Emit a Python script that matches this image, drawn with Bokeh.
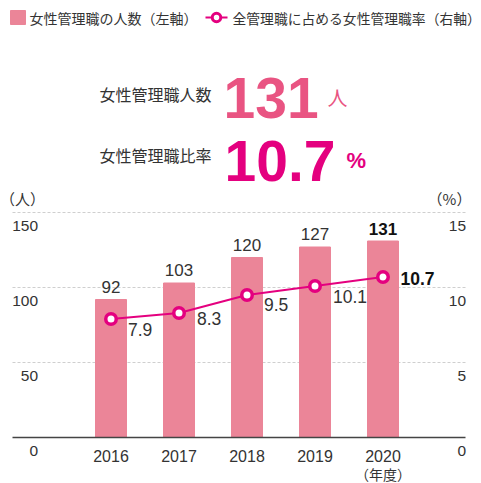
from bokeh.plotting import figure
from bokeh.models import Range1d
from bokeh.embed import file_html
from bokeh.resources import INLINE
from bokeh.core.properties import value

# ---------------- data ----------------
years = ["2016", "2017", "2018", "2019", "2020"]
counts = [92, 103, 120, 127, 131]
ratios = [7.9, 8.3, 9.5, 10.1, 10.7]
left_ticks = [0, 50, 100, 150]
right_ticks = [0, 5, 10, 15]
left_tick_labels = ["0", "50", "100", "150"]
right_tick_labels = ["0", "5", "10", "15"]
legend_labels = ["女性管理職の人数（左軸）", "全管理職に占める女性管理職率（右軸）"]
headline_titles = ["女性管理職人数", "女性管理職比率"]
headline_count = "131"
headline_count_unit = "人"
headline_ratio = "10.7"
headline_ratio_unit = "%"
left_unit = "（人）"
right_unit = "（%）"
year_unit = "（年度）"

# ---------------- layout (styling) ----------------
W, H = 481, 483
PX_X = 68.0          # px per year slot
PX_Y = 1.5           # px per person (left axis)
X0_IMG = 110.5       # image x of first slot
BASE_IMG = 437.0     # image y of zero line
TOP_IMG, LEFT_IMG = 0.0, 0.0
BOTTOM_IMG = TOP_IMG + H

xs = -(X0_IMG - LEFT_IMG) / PX_X
xe = xs + W / PX_X
ys = -(BOTTOM_IMG - BASE_IMG) / PX_Y
ye = ys + H / PX_Y
RATIO_SCALE = 10.0   # 15% <-> 150 persons


def X(img_x):
    return xs + (img_x - LEFT_IMG) / PX_X


def Y(img_y):
    return ys + (BOTTOM_IMG - img_y) / PX_Y


BAR = "#EB8598"
MAG = "#E4007F"
PINK = "#E95482"
TXT = "#333333"
NUM_FONT = value("Liberation Sans")
JP_FONT = value("Noto Sans CJK JP")

idx = list(range(len(years)))

p = figure(width=W, height=H, x_range=Range1d(xs, xe), y_range=Range1d(ys, ye),
           output_backend="svg", toolbar_location=None, min_border=0,
           x_axis_type=None, y_axis_type=None, outline_line_color=None,
           background_fill_color="white", border_fill_color="white")
p.extra_y_ranges = {"pct": Range1d(ys / RATIO_SCALE, ye / RATIO_SCALE)}

# grid lines
grid_vals = [t for t in left_ticks if t > 0]
p.segment(x0=[X(12)] * len(grid_vals), x1=[X(465)] * len(grid_vals),
          y0=grid_vals, y1=grid_vals, line_color="#cfcfcf", line_width=1,
          line_dash="3 2")

# bars
p.vbar(x=idx, top=counts, width=31 / PX_X, color=BAR)

# baseline
p.segment(x0=[X(12)], x1=[X(465)], y0=[0], y1=[0], line_color="#444444",
          line_width=1.5)

# ratio line
p.line(x=idx, y=ratios, y_range_name="pct", line_color=MAG, line_width=2)
p.scatter(x=idx, y=ratios, y_range_name="pct", size=10.5, fill_color="white",
          line_color=MAG, line_width=3.5)

# bar labels
p.text(x=idx[:-1], y=[c + 13 / PX_Y for c in counts[:-1]],
       text=[str(c) for c in counts[:-1]], text_font=NUM_FONT,
       text_font_size="17px", text_align="center", text_baseline="middle",
       text_color=TXT)
p.text(x=idx[-1:], y=[counts[-1] + 12 / PX_Y], text=[str(counts[-1])],
       text_font=NUM_FONT, text_font_size="17px", text_font_style="bold",
       text_align="center", text_baseline="middle", text_color="#111111")

# ratio labels (right of markers)
label_dy = [10, 5, 9.5, 10, 1]
label_dx = [17, 18, 17, 18, 17.5]
pct_px = PX_Y * RATIO_SCALE
p.text(x=[i + label_dx[i] / PX_X for i in idx[:-1]],
       y=[r - label_dy[i] / pct_px for i, r in enumerate(ratios[:-1])],
       y_range_name="pct", text=[f"{r:.1f}" for r in ratios[:-1]],
       text_font=NUM_FONT, text_font_size="17.5px", text_align="left",
       text_baseline="middle", text_color=TXT)
p.text(x=[idx[-1] + label_dx[-1] / PX_X],
       y=[ratios[-1] - label_dy[-1] / pct_px], y_range_name="pct",
       text=[f"{ratios[-1]:.1f}"], text_font=NUM_FONT, text_font_size="17.5px",
       text_font_style="bold", text_align="left", text_baseline="middle",
       text_color="#111111")

# axis tick labels
p.text(x=[X(37.5)] * len(left_ticks), y=[t - 13.5 / PX_Y for t in left_ticks],
       text=left_tick_labels, text_font=NUM_FONT, text_font_size="15.5px",
       text_align="right", text_baseline="middle", text_color=TXT)
p.text(x=[X(465.5)] * len(right_ticks),
       y=[t - 13.5 / pct_px for t in right_ticks], y_range_name="pct",
       text=right_tick_labels, text_font=NUM_FONT, text_font_size="15.5px",
       text_align="right", text_baseline="middle", text_color=TXT)
p.text(x=idx, y=[Y(455)] * len(idx), text=years, text_font=NUM_FONT,
       text_font_size="16px", text_align="center", text_baseline="middle",
       text_color=TXT)
p.text(x=[idx[-1]], y=[Y(473)], text=[year_unit], text_font=JP_FONT,
       text_font_size="14px", text_align="center", text_baseline="middle",
       text_color=TXT)
p.text(x=[X(22)], y=[Y(198)], text=[left_unit], text_font=JP_FONT,
       text_font_size="15px", text_align="center", text_baseline="middle",
       text_color=TXT)
p.text(x=[X(449)], y=[Y(198)], text=[right_unit], text_font=JP_FONT,
       text_font_size="15px", text_align="center", text_baseline="middle",
       text_color=TXT)

# legend
p.rect(x=[X(17.5)], y=[Y(17)], width=15 / PX_X, height=14 / PX_Y, color=BAR)
p.text(x=[X(29)], y=[Y(17)], text=[legend_labels[0]], text_font=JP_FONT,
       text_font_size="14px", text_align="left", text_baseline="middle",
       text_color=TXT)
p.segment(x0=[X(205)], x1=[X(227)], y0=[Y(17)], y1=[Y(17)], line_color=MAG,
          line_width=2)
p.scatter(x=[X(216)], y=[Y(17)], size=8.5, fill_color="white", line_color=MAG,
          line_width=3)
p.text(x=[X(232)], y=[Y(17)], text=[legend_labels[1]], text_font=JP_FONT,
       text_font_size="13.8px", text_align="left", text_baseline="middle",
       text_color=TXT)

# headline block
p.text(x=[X(99)] * 2, y=[Y(93), Y(154)], text=headline_titles,
       text_font=JP_FONT, text_font_size="16px", text_align="left",
       text_baseline="middle", text_color=TXT)
p.text(x=[X(223)], y=[Y(97)], text=[headline_count], text_font=NUM_FONT,
       text_font_size="57px", text_font_style="bold", text_align="left",
       text_baseline="alphabetic", text_color=PINK)
p.text(x=[X(327)], y=[Y(97)], text=[headline_count_unit], text_font=JP_FONT,
       text_font_size="20px", text_align="left", text_baseline="alphabetic",
       text_color=PINK)
p.text(x=[X(224)], y=[Y(160)], text=[headline_ratio], text_font=NUM_FONT,
       text_font_size="57px", text_font_style="bold", text_align="left",
       text_baseline="alphabetic", text_color=MAG)
p.text(x=[X(346)], y=[Y(160)], text=[headline_ratio_unit], text_font=NUM_FONT,
       text_font_size="22px", text_font_style="bold", text_align="left",
       text_baseline="alphabetic", text_color=MAG)

open("out.html", "w").write(file_html(p, INLINE))
